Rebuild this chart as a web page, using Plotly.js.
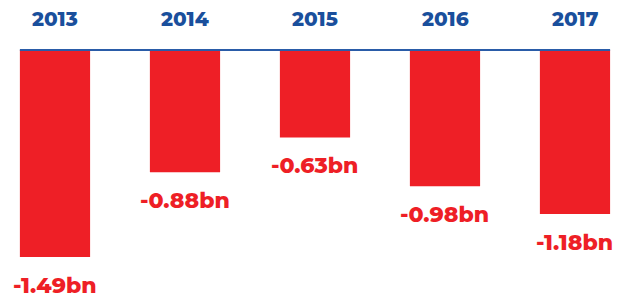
<!DOCTYPE html>
<html><head><meta charset="utf-8">
<script src="https://cdn.plot.ly/plotly-3.0.1.min.js"></script>
<style>html,body{margin:0;padding:0;background:#fff}#chart{width:624px;height:295px}</style>
</head><body><div id="chart"></div>
<script>
const years = ['2013','2014','2015','2016','2017'];
const values = [-1.49, -0.88, -0.63, -0.98, -1.18];
const labels = ['-1.49bn','-0.88bn','-0.63bn','-0.98bn','-1.18bn'];

const barColor = '#ee1f26';
const blue = '#1a4f9c';
const bargap = 0.46;
const half = (1 - bargap) / 2;
const font = 'Montserrat, "Open Sans", "DejaVu Sans", sans-serif';

const annotations = [];
years.forEach((y, i) => {
  annotations.push({x: i, y: 0, xref: 'x', yref: 'y', text: y, showarrow: false,
    yanchor: 'bottom', yshift: 17, font: {family: font, size: 20, color: blue, weight: 800}});
  annotations.push({x: i, y: values[i], xref: 'x', yref: 'y', text: labels[i], showarrow: false,
    yanchor: 'middle', yshift: -28, font: {family: font, size: 22, color: barColor, weight: 800}});
});

Plotly.newPlot('chart', [{
  type: 'bar', x: years, y: values, marker: {color: barColor}, hoverinfo: 'none'
}], {
  width: 624, height: 295,
  margin: {l: 0, r: 0, t: 0, b: 0},
  paper_bgcolor: '#fff', plot_bgcolor: '#fff',
  bargap: bargap,
  showlegend: false,
  xaxis: {type: 'category', range: [-0.423, 4.377], visible: false, fixedrange: true},
  yaxis: {range: [-1.7626, 0.3597], visible: false, fixedrange: true},
  shapes: [{type: 'line', xref: 'x', yref: 'y', x0: -half, x1: years.length - 1 + half, y0: 0, y1: 0,
    line: {color: '#2a5ca8', width: 2}}],
  annotations: annotations
}, {staticPlot: true});
</script></body></html>
